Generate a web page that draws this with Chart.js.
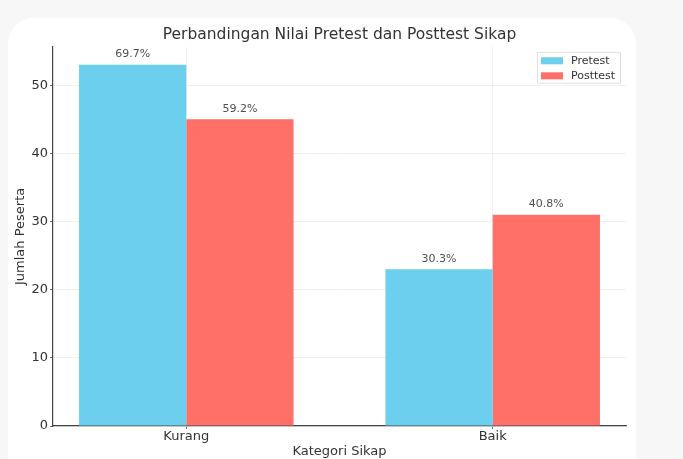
<!DOCTYPE html>
<html>
<head>
<meta charset="utf-8">
<script src="https://cdn.jsdelivr.net/npm/chart.js@4/dist/chart.umd.min.js"></script>
<style>
  html, body { margin: 0; padding: 0; background: #f7f7f7; }
  #wrap { position: relative; width: 683px; height: 459px; overflow: hidden; }
  #card { position: absolute; left: 8px; top: 18px; width: 628px; height: 470px;
          background: #ffffff; border-radius: 26px; }
  #chart { position: absolute; left: 0; top: 0; }
</style>
</head>
<body>
<div id="wrap">
  <div id="card"></div>
  <canvas id="chart" width="683" height="459"></canvas>
</div>
<script>
// Attitude categories and participant counts per test
const categories = ['Kurang', 'Baik'];
const seriesNames = ['Pretest', 'Posttest'];
const pretest = [53, 23];
const posttest = [45, 31];
const yTicks = [0, 10, 20, 30, 40, 50];

const colors = ['#6dcfee', '#ff7168'];
const FONT = 'DejaVu Sans';

const series = [pretest, posttest];
const totals = series.map(s => s.reduce((a, b) => a + b, 0));
const yMax = Math.max(...pretest, ...posttest) * 1.05;

// Percentage of each series total, printed above its bar
const valueLabels = {
  id: 'valueLabels',
  afterDatasetsDraw(chart) {
    const ctx = chart.ctx;
    ctx.save();
    ctx.font = '11px "' + FONT + '"';
    ctx.fillStyle = '#505050';
    ctx.textAlign = 'center';
    ctx.textBaseline = 'bottom';
    chart.data.datasets.forEach((ds, di) => {
      chart.getDatasetMeta(di).data.forEach((bar, i) => {
        const pct = (series[di][i] / totals[di] * 100).toFixed(1) + '%';
        ctx.fillText(pct, bar.x, bar.y - 5);
      });
    });
    ctx.restore();
  }
};

// Framed legend in the upper right of the plot area
const boxLegend = {
  id: 'boxLegend',
  afterDraw(chart) {
    const ctx = chart.ctx;
    const a = chart.chartArea;
    const w = 83, h = 31;
    const x = a.right - 6 - w, y = a.top + 5;
    ctx.save();
    ctx.fillStyle = 'rgba(255,255,255,0.85)';
    ctx.strokeStyle = '#e0e0e0';
    ctx.lineWidth = 1;
    ctx.beginPath();
    ctx.rect(x + 0.5, y + 0.5, w, h);
    ctx.fill();
    ctx.stroke();
    ctx.font = '11px "' + FONT + '"';
    ctx.textBaseline = 'middle';
    ctx.textAlign = 'left';
    chart.data.datasets.forEach((ds, i) => {
      const cy = y + 9 + i * 15;
      ctx.fillStyle = ds.backgroundColor;
      ctx.fillRect(x + 4, cy - 3.5, 22, 7);
      ctx.fillStyle = '#333';
      ctx.fillText(ds.label, x + 34, cy);
    });
    ctx.restore();
  }
};

new Chart(document.getElementById('chart'), {
  type: 'bar',
  data: {
    datasets: seriesNames.map((name, di) => ({
      label: name,
      data: series[di].map((v, i) => ({ x: i, y: v })),
      backgroundColor: colors[di],
      borderWidth: 0
    }))
  },
  options: {
    responsive: false,
    animation: false,
    layout: { padding: { left: 0, right: 57, top: 0, bottom: 0 } },
    datasets: { bar: { categoryPercentage: 0.7, barPercentage: 1.0, grouped: true } },
    plugins: {
      legend: { display: false },
      tooltip: { enabled: false },
      title: {
        display: true,
        fullSize: false,
        text: 'Perbandingan Nilai Pretest dan Posttest Sikap',
        color: '#333',
        font: { family: FONT, size: 15.5, weight: 'normal' },
        padding: { top: 25.7, bottom: 2.5 }
      }
    },
    scales: {
      x: {
        type: 'linear',
        offset: false,
        min: -0.435,
        max: 1.435,
        afterBuildTicks(scale) { scale.ticks = categories.map((c, i) => ({ value: i })); },
        afterFit(scale) { scale.height = 33; },
        ticks: {
          callback: (v) => categories[v],
          color: '#333',
          padding: 0,
          font: { family: FONT, size: 13 }
        },
        grid: { offset: false, color: '#ececec', lineWidth: 0.8, tickLength: 3, tickColor: '#444' },
        border: { color: '#444', width: 1.2 },
        title: {
          display: true,
          text: 'Kategori Sikap',
          color: '#333',
          font: { family: FONT, size: 13 },
          padding: { top: 0, bottom: 0 }
        }
      },
      y: {
        min: 0,
        max: yMax,
        afterBuildTicks(scale) { scale.ticks = yTicks.map(v => ({ value: v })); },
        afterFit(scale) { scale.width = 53; },
        ticks: {
          color: '#333',
          padding: 2,
          font: { family: FONT, size: 13 }
        },
        grid: { color: '#ececec', lineWidth: 0.8, tickLength: 3, tickColor: '#444' },
        border: { color: '#444', width: 1.2 },
        title: {
          display: true,
          text: 'Jumlah Peserta',
          color: '#333',
          font: { family: FONT, size: 13 },
          padding: { top: 13, bottom: 0 }
        }
      }
    }
  },
  plugins: [valueLabels, boxLegend]
});
</script>
</body>
</html>
